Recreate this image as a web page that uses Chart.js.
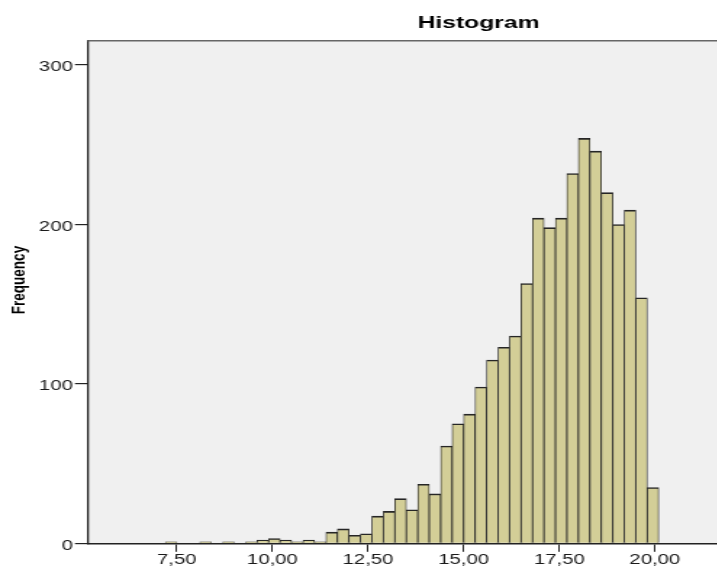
<!DOCTYPE html>
<html>
<head>
<meta charset="utf-8">
<title>Histogram</title>
<script src="https://cdn.jsdelivr.net/npm/chart.js@4.4.1/dist/chart.umd.min.js"></script>
<style>
  html, body { margin: 0; padding: 0; background: #fff; overflow: hidden; }
  body { width: 717px; height: 568px; position: relative; }
  /* the source picture is stretched sideways, so the canvas is too */
  #wrap { position: absolute; left: 0; top: 0; width: 660px; height: 568px;
          transform: scaleX(1.45); transform-origin: 0 0; }
</style>
</head>
<body>
<div id="wrap"><canvas id="histChart" width="660" height="568"></canvas></div>
<script>
// bin centres (bins are 0.3 wide)
const binCenters = [
  7.35, 7.65, 7.95, 8.25, 8.55, 8.85, 9.15, 9.45, 9.75, 10.05,
  10.35, 10.65, 10.95, 11.25, 11.55, 11.85, 12.15, 12.45, 12.75, 13.05,
  13.35, 13.65, 13.95, 14.25, 14.55, 14.85, 15.15, 15.45, 15.75, 16.05,
  16.35, 16.65, 16.95, 17.25, 17.55, 17.85, 18.15, 18.45, 18.75, 19.05,
  19.35, 19.65, 19.95
];
const frequency = [
  1, 0, 0, 1, 0, 1, 0, 1, 2, 3,
  2, 1, 2, 1, 7, 9, 5, 6, 17, 20,
  28, 21, 37, 31, 61, 75, 81, 98, 115, 123,
  130, 163, 204, 198, 204, 232, 254, 246, 220, 200,
  209, 154, 35
];
const xTickValues = [7.5, 10, 12.5, 15, 17.5, 20];
const xTickLabels = ['7,50', '10,00', '12,50', '15,00', '17,50', '20,00'];
const yTickValues = [0, 100, 200, 300];
const yAxisTitle = 'Frequency';

const tickFont = { family: "'Liberation Sans Narrow', 'Liberation Sans', Arial, sans-serif", size: 14 };

Chart.defaults.font.family = "'Liberation Sans', Arial, sans-serif";

// plot background, top frame line and the y axis title (sits a bit above centre in the source)
const plotFrame = {
  id: 'plotFrame',
  beforeDraw(chart) {
    const { ctx, chartArea: a } = chart;
    ctx.save();
    ctx.fillStyle = '#f0f0f0';
    ctx.fillRect(a.left, a.top, a.right - a.left, a.bottom - a.top);
    ctx.restore();
  },
  afterDraw(chart) {
    const { ctx, chartArea: a } = chart;
    ctx.save();
    ctx.strokeStyle = '#666';
    ctx.lineWidth = 1.5;
    ctx.beginPath();
    ctx.moveTo(a.left, a.top);
    ctx.lineTo(a.right, a.top);
    ctx.stroke();

    ctx.translate(13.6, (a.top + a.bottom) / 2 - 12);
    ctx.rotate(-Math.PI / 2);
    ctx.font = "bold 13.5px 'Liberation Sans', Arial, sans-serif";
    ctx.fillStyle = '#000';
    ctx.textAlign = 'center';
    ctx.textBaseline = 'middle';
    ctx.fillText(yAxisTitle, 0, 0);
    ctx.restore();
  }
};

const ctx = document.getElementById('histChart').getContext('2d');
const chart = new Chart(ctx, {
  type: 'bar',
  data: {
    labels: binCenters,
    datasets: [{
      label: 'Frequency',
      data: frequency,
      backgroundColor: '#d3ce97',
      borderColor: '#262626',
      borderWidth: { top: 1.6, left: 0.8, right: 0.8, bottom: 0 },
      barPercentage: 1,
      categoryPercentage: 1
    }]
  },
  options: {
    responsive: false,
    animation: false,
    events: [],
    layout: { padding: 0 },
    plugins: {
      legend: { display: false },
      tooltip: { enabled: false },
      title: {
        display: true,
        text: 'Histogram',
        color: '#000',
        font: { size: 17, weight: 'bold' },
        padding: { top: 13.5, bottom: 6.8 }
      }
    },
    scales: {
      x: {
        type: 'linear',
        min: 5.17,
        max: 27.9,
        offset: false,
        z: 1,
        afterBuildTicks: (scale) => { scale.ticks = xTickValues.map(v => ({ value: v })); },
        afterFit: (scale) => { scale.height = 24.7; },
        ticks: {
          color: '#1a1a1a',
          font: tickFont,
          padding: 0,
          maxRotation: 0,
          autoSkip: false,
          callback: (v) => xTickLabels[xTickValues.indexOf(v)]
        },
        grid: { display: true, offset: false, drawOnChartArea: false, drawTicks: true, tickLength: 8.5, color: '#222', lineWidth: 1 },
        border: { display: true, color: '#222', width: 1.5 }
      },
      y: {
        min: 0,
        max: 315.3,
        z: 1,
        afterBuildTicks: (scale) => { scale.ticks = yTickValues.map(v => ({ value: v })); },
        afterFit: (scale) => { scale.width = 60.5; },
        ticks: { color: '#1a1a1a', font: tickFont, padding: 1.5, labelOffset: 2.5 },
        grid: { display: true, drawOnChartArea: false, drawTicks: true, tickLength: 8.8, color: '#222', lineWidth: 1.2 },
        border: { display: true, color: '#222', width: 1.3 },
        title: { display: false }
      }
    }
  },
  plugins: [plotFrame]
});
</script>
</body>
</html>
